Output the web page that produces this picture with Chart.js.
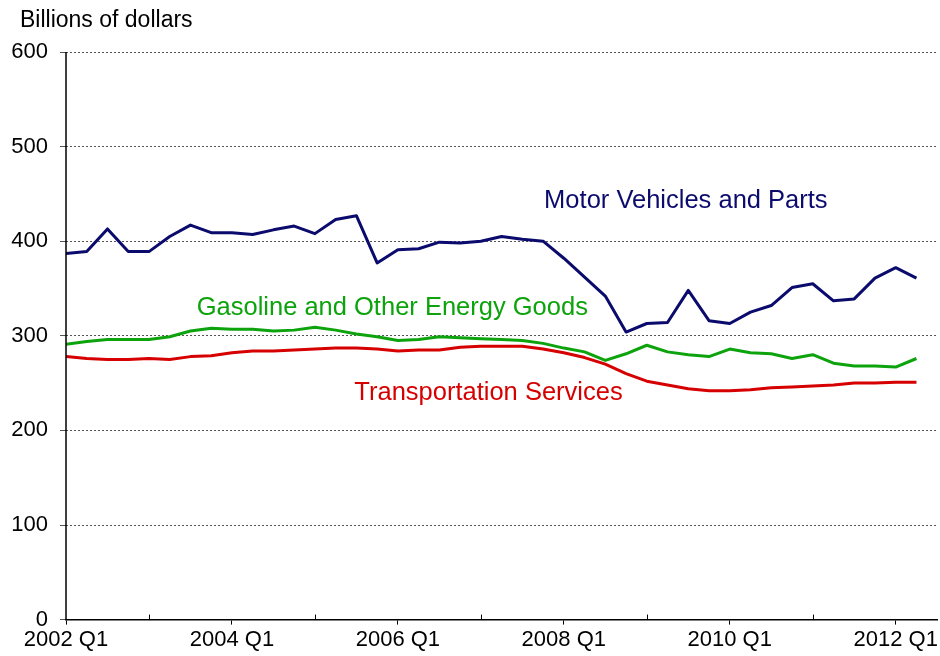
<!DOCTYPE html>
<html lang="en">
<head>
    <meta charset="UTF-8">
    <title>Motor Vehicles, Gasoline and Transportation Services</title>
    <style>
        html, body { margin: 0; padding: 0; background: #fff; }
        #wrap { width: 940px; height: 656px; }
    </style>
</head>
<body>

<div id="wrap">
    <canvas id="chart" width="940" height="656"></canvas>
</div>

<script src="https://cdn.jsdelivr.net/npm/chart.js@4.4.0/dist/chart.umd.min.js"></script>

<script>
    const quarters = [
        '2002 Q1', '2002 Q2', '2002 Q3', '2002 Q4', '2003 Q1', '2003 Q2', '2003 Q3', '2003 Q4',
        '2004 Q1', '2004 Q2', '2004 Q3', '2004 Q4', '2005 Q1', '2005 Q2', '2005 Q3', '2005 Q4',
        '2006 Q1', '2006 Q2', '2006 Q3', '2006 Q4', '2007 Q1', '2007 Q2', '2007 Q3', '2007 Q4',
        '2008 Q1', '2008 Q2', '2008 Q3', '2008 Q4', '2009 Q1', '2009 Q2', '2009 Q3', '2009 Q4',
        '2010 Q1', '2010 Q2', '2010 Q3', '2010 Q4', '2011 Q1', '2011 Q2', '2011 Q3', '2011 Q4',
        '2012 Q1', '2012 Q2'
    ];
    const xTickLabels = ['2002 Q1', '2004 Q1', '2006 Q1', '2008 Q1', '2010 Q1', '2012 Q1'];
    const yTicks = [0, 100, 200, 300, 400, 500, 600];

    const motorVehicles = [387, 389, 413, 389, 389, 405, 417, 409, 409, 407, 412, 416, 408, 423, 427, 377,
        391, 392, 399, 398, 400, 405, 402, 400, 382, 362, 342, 304, 313, 314, 348, 316,
        313, 325, 332, 351, 355, 337, 339, 361, 372, 361];
    const gasoline = [291, 294, 296, 296, 296, 299, 305, 308, 307, 307, 305, 306, 309, 306, 302, 299,
        295, 296, 299, 298, 297, 296, 295, 292, 287, 283, 274, 281, 290, 283, 280, 278,
        286, 282, 281, 276, 280, 271, 268, 268, 267, 276];
    const transportation = [278, 276, 275, 275, 276, 275, 278, 279, 282, 284, 284, 285, 286, 287, 287, 286,
        284, 285, 285, 288, 289, 289, 289, 286, 282, 277, 270, 260, 252, 248, 244, 242,
        242, 243, 245, 246, 247, 248, 250, 250, 251, 251];

    const seriesNames = ['Motor Vehicles and Parts', 'Gasoline and Other Energy Goods', 'Transportation Services'];

    const NAVY = '#0b0b6e';
    const GREEN = '#0da30d';
    const RED = '#d60000';
    const FONT = '"Liberation Sans", Arial, sans-serif';

    function toPoints(arr) {
        return arr.map((v, i) => ({ x: i, y: v }));
    }

    // where the in-chart series names sit (quarter index / dollar value of their left-middle)
    const nameSpots = [
        { x: 23.05, y: 442, color: NAVY },
        { x: 6.3, y: 329, color: GREEN },
        { x: 13.9, y: 240, color: RED }
    ];

    const extras = {
        id: 'extras',
        afterDraw(chart) {
            const ctx = chart.ctx;
            const xs = chart.scales.x;
            const ys = chart.scales.y;
            ctx.save();
            // unit title
            ctx.fillStyle = '#000';
            ctx.font = '23px ' + FONT;
            ctx.textBaseline = 'middle';
            ctx.textAlign = 'left';
            ctx.fillText('Billions of dollars', 20, 21);

            // series names
            ctx.font = '25.5px ' + FONT;
            nameSpots.forEach((s, i) => {
                ctx.fillStyle = s.color;
                ctx.fillText(seriesNames[i], xs.getPixelForValue(s.x), ys.getPixelForValue(s.y));
            });

            ctx.strokeStyle = '#000';
            ctx.lineWidth = 1.5;
            ctx.setLineDash([]);
            const y0 = ys.getPixelForValue(0);
            // solid value axis line
            const xl = xs.left;
            ctx.beginPath();
            ctx.moveTo(xl, ys.top);
            ctx.lineTo(xl, y0);
            ctx.stroke();

            // small upward marks at the unlabelled years
            ctx.lineWidth = 1;
            for (let v = 4; v < quarters.length; v += 8) {
                const px = Math.round(xs.getPixelForValue(v)) + 0.5;
                ctx.beginPath();
                ctx.moveTo(px, y0);
                ctx.lineTo(px, y0 - 5);
                ctx.stroke();
            }
            ctx.restore();
        }
    };

    const ctx = document.getElementById('chart').getContext('2d');
    new Chart(ctx, {
        type: 'line',
        data: {
            datasets: [
                { label: seriesNames[0], data: toPoints(motorVehicles), borderColor: NAVY },
                { label: seriesNames[1], data: toPoints(gasoline), borderColor: GREEN },
                { label: seriesNames[2], data: toPoints(transportation), borderColor: RED }
            ]
        },
        options: {
            responsive: false,
            animation: false,
            layout: { padding: { top: 52, right: 2, left: 0, bottom: 1 } },
            elements: {
                line: { borderWidth: 3, tension: 0, borderJoinStyle: 'round' },
                point: { radius: 0 }
            },
            plugins: {
                legend: { display: false },
                tooltip: { enabled: false }
            },
            scales: {
                x: {
                    type: 'linear',
                    min: 0,
                    max: 42,
                    afterBuildTicks(scale) {
                        scale.ticks = scale.ticks.filter(t => t.value % 4 === 0 && t.value < quarters.length);
                    },
                    ticks: {
                        stepSize: 4,
                        autoSkip: false,
                        maxRotation: 0,
                        color: '#000',
                        font: { family: FONT, size: 22 },
                        padding: 2,
                        callback: (v) => xTickLabels.includes(quarters[v]) ? quarters[v] : ''
                    },
                    grid: {
                        drawOnChartArea: false,
                        tickLength: 5,
                        tickColor: (c) => (c.tick && c.tick.value % 8 === 0) ? '#000' : 'rgba(0,0,0,0)'
                    },
                    border: { color: '#000', width: 1.5 }
                },
                y: {
                    min: 0,
                    max: 600,
                    afterBuildTicks(scale) {
                        scale.ticks = yTicks.map(v => ({ value: v }));
                    },
                    afterFit(scale) {
                        scale.width = 66;
                    },
                    ticks: {
                        color: '#000',
                        font: { family: FONT, size: 22 },
                        padding: 12
                    },
                    grid: {
                        color: (c) => c.tick && c.tick.value === 0 ? 'rgba(0,0,0,0)' : '#555',
                        tickColor: '#555',
                        tickLength: 6,
                        lineWidth: 1
                    },
                    border: { display: false, dash: [2, 2] }
                }
            }
        },
        plugins: [extras]
    });
</script>

</body>
</html>
